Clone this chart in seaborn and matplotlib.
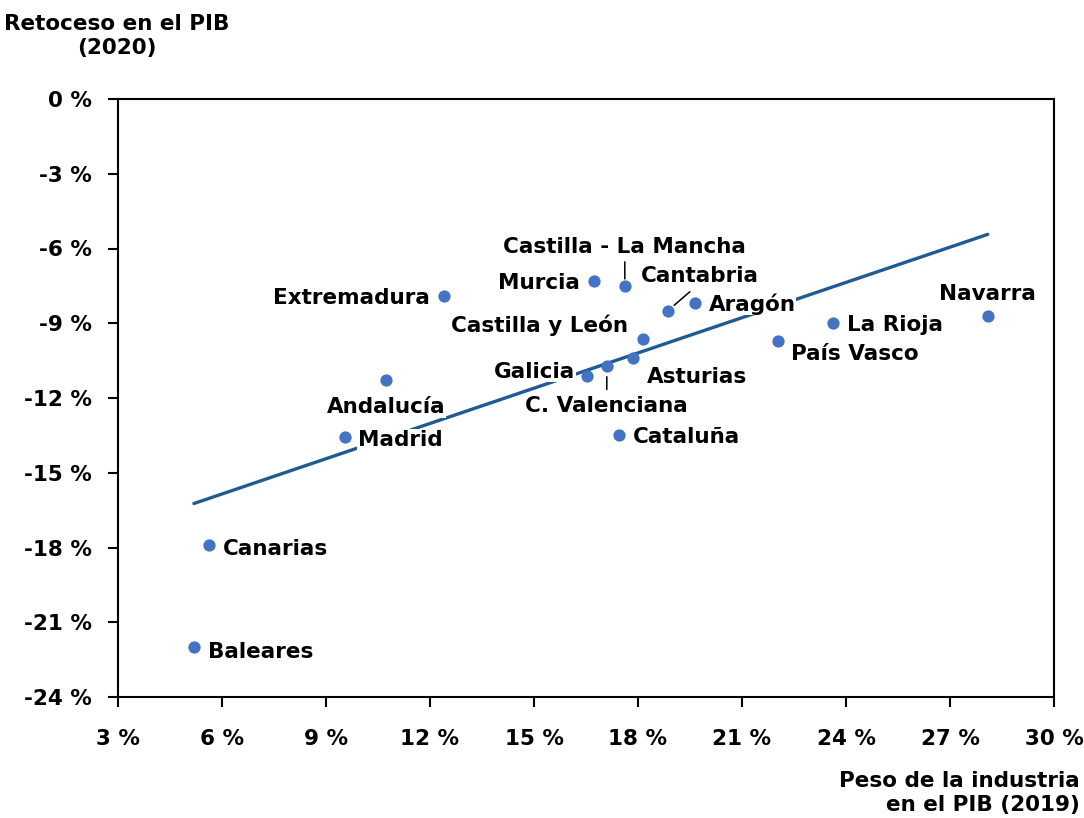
import matplotlib
matplotlib.use("Agg")
import matplotlib.pyplot as plt
import seaborn as sns
import numpy as np
import pandas as pd

regions = ["Baleares", "Canarias", "Madrid", "Andalucía", "Extremadura", "Murcia",
           "Castilla - La Mancha", "Cantabria", "Aragón", "Castilla y León", "Galicia",
           "C. Valenciana", "Asturias", "Cataluña", "País Vasco", "La Rioja", "Navarra"]
industria = [5.19, 5.62, 9.55, 10.73, 12.40, 16.73, 17.62, 18.86, 19.64, 18.14, 16.53,
             17.10, 17.85, 17.45, 22.04, 23.62, 28.09]
retroceso = [-22.0, -17.9, -13.56, -11.28, -7.9, -7.3, -7.5, -8.5, -8.19, -9.63, -11.1,
             -10.7, -10.4, -13.5, -9.7, -9.0, -8.7]
x_ticks = [3, 6, 9, 12, 15, 18, 21, 24, 27, 30]
y_ticks = [0, -3, -6, -9, -12, -15, -18, -21, -24]

df = pd.DataFrame({"region": regions, "x": industria, "y": retroceso})

# label placement (offset in pixels, alignment)
label_pos = {
    "Baleares": (14, -5, "left"),
    "Canarias": (14, -4, "left"),
    "Madrid": (13, -3, "left"),
    "Andalucía": (0, -27, "center"),
    "Extremadura": (-14, -2, "right"),
    "Murcia": (-14, -2, "right"),
    "Castilla - La Mancha": (0, 39, "center"),
    "Cantabria": (-27, 35, "left"),
    "Aragón": (14, -1, "left"),
    "Castilla y León": (-15, 14, "right"),
    "Galicia": (-12, 4, "right"),
    "C. Valenciana": (0, -40, "center"),
    "Asturias": (14, -19, "left"),
    "Cataluña": (14, -2, "left"),
    "País Vasco": (13, -13, "left"),
    "La Rioja": (14, -2, "left"),
    "Navarra": (0, 22, "center"),
}
leaders = {
    "Castilla - La Mancha": ((0, 24), 5),
    "Cantabria": ((22, 19), 6),
    "C. Valenciana": ((0, -24), 8),
}

sns.set_style("white")
plt.rcParams["font.family"] = ["DejaVu Sans"]
plt.rcParams["font.weight"] = "bold"
plt.rcParams["text.color"] = "black"
plt.rcParams["xtick.color"] = "black"
plt.rcParams["ytick.color"] = "black"

fig = plt.figure(figsize=(10.84, 8.18), dpi=100)
ax = fig.add_axes([118/1084, 1-697/818, (1054-118)/1084, (697-99)/818])

sns.regplot(data=df, x="x", y="y", ax=ax, scatter=False, ci=None, truncate=True,
            line_kws=dict(color="#1F5B93", lw=2.4, zorder=2))
ax.scatter(df["x"], df["y"], s=78, color="#4472C4", zorder=4, linewidths=0)

fs = 15.5
for _, r in df.iterrows():
    dx, dy, ha = label_pos[r["region"]]
    ax.annotate(r["region"], (r["x"], r["y"]), xytext=(dx, dy), textcoords="offset pixels",
                ha=ha, va="center", fontsize=fs, fontweight="bold", color="black",
                bbox=dict(fc="white", ec="none", pad=0.5), zorder=3)
    if r["region"] in leaders:
        (lx, ly), sh = leaders[r["region"]]
        ax.annotate("", (r["x"], r["y"]), xytext=(lx, ly), textcoords="offset pixels",
                    arrowprops=dict(arrowstyle="-", color="black", lw=1.1,
                                    shrinkA=0, shrinkB=sh), zorder=3)

ax.set_xlim(3, 30)
ax.set_ylim(-24, 0)
ax.set_xticks(x_ticks)
ax.set_yticks(y_ticks)
ax.set_xticklabels([f"{t} %" for t in x_ticks], fontsize=fs, fontweight="bold", color="black")
ax.set_yticklabels([f"{t} %" for t in y_ticks], fontsize=fs, fontweight="bold", color="black")
ax.tick_params(axis="both", direction="out", length=7, width=1.5, color="black",
               bottom=True, left=True)
ax.tick_params(axis="x", pad=16)
ax.tick_params(axis="y", pad=12)
ax.set_xlabel("")
ax.set_ylabel("")
for s in ax.spines.values():
    s.set_visible(True)
    s.set_color("black")
    s.set_linewidth(1.5)

fig.text(117/1084, 1-36/818, "Retoceso en el PIB\n(2020)", ha="center", va="center",
         fontsize=fs, fontweight="bold", linespacing=1.3, color="black")
fig.text(1080/1084, 1-793/818, "Peso de la industria\nen el PIB (2019)", ha="right", va="center",
         fontsize=fs, fontweight="bold", linespacing=1.3, multialignment="right", color="black")

fig.savefig("out.png", dpi=100)
